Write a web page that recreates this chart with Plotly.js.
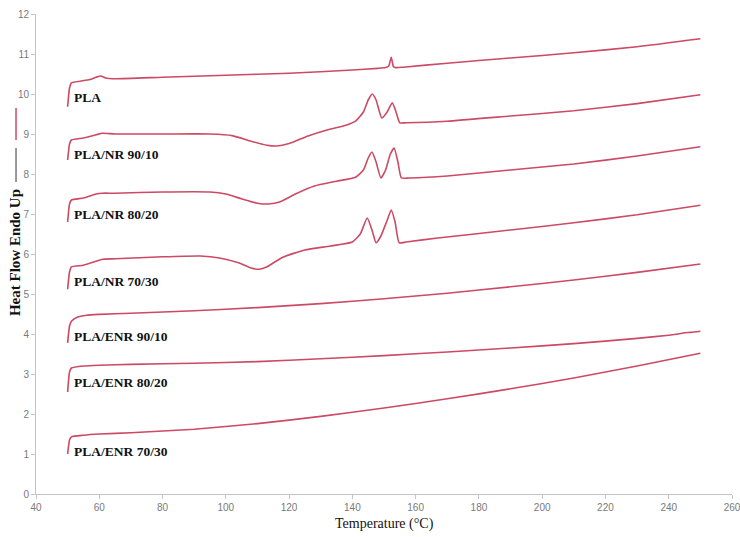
<!DOCTYPE html>
<html>
<head>
<meta charset="utf-8">
<script src="https://cdn.plot.ly/plotly-3.0.1.min.js"></script>
<style>html,body{margin:0;padding:0;background:#fff;}#chart{width:740px;height:537px;}</style>
</head>
<body>
<div id="chart"></div>
<script>
const seriesNames = ["PLA", "PLA/NR 90/10", "PLA/NR 80/20", "PLA/NR 70/30", "PLA/ENR 90/10", "PLA/ENR 80/20", "PLA/ENR 70/30"];

const tPLA = [50, 50.6, 51.2, 54, 57, 59, 60.5, 62, 65, 80, 100, 120, 140, 148, 150.5, 151.5, 152.3, 153, 153.8, 156, 170, 190, 210, 230, 250];
const hfPLA = [9.68, 10.15, 10.28, 10.32, 10.36, 10.42, 10.45, 10.4, 10.38, 10.42, 10.47, 10.52, 10.6, 10.64, 10.66, 10.7, 10.92, 10.68, 10.66, 10.67, 10.77, 10.9, 11.03, 11.18, 11.38];

const tNR9010 = [50, 50.6, 51.2, 55, 59, 61, 65, 80, 95, 102, 108, 113, 116, 120, 126, 132, 138, 141, 143.5, 145, 146.3, 147.5, 149.3, 151, 152.6, 153.8, 155, 157, 170, 190, 210, 230, 250];
const hfNR9010 = [8.35, 8.75, 8.85, 8.9, 8.98, 9.02, 9.0, 9.0, 9.0, 8.96, 8.82, 8.72, 8.7, 8.76, 8.95, 9.1, 9.22, 9.32, 9.55, 9.85, 10.0, 9.85, 9.4, 9.55, 9.78, 9.55, 9.28, 9.28, 9.32, 9.45, 9.58, 9.76, 9.98];

const tNR8020 = [50, 50.6, 51.2, 55, 59, 61, 65, 80, 95, 100, 105, 110, 113.5, 117, 122, 128, 135, 141, 143.5, 145, 146.2, 147.5, 149, 150.5, 152, 153.2, 154.4, 155.5, 158, 170, 190, 210, 230, 250];
const hfNR8020 = [6.8, 7.25, 7.35, 7.4, 7.5, 7.52, 7.52, 7.55, 7.55, 7.5, 7.38, 7.27, 7.25, 7.3, 7.5, 7.7, 7.82, 7.92, 8.1, 8.4, 8.55, 8.3, 7.9, 8.1, 8.5, 8.65, 8.3, 7.9, 7.9, 7.95, 8.1, 8.25, 8.45, 8.68];

const tNR7030 = [50, 50.6, 51.2, 55, 59, 61, 65, 80, 92, 98, 104, 108, 110.6, 113, 118, 125, 133, 140, 142.5, 144.7, 146.2, 147.5, 149, 150.8, 152.3, 153.5, 154.8, 157, 167, 190, 210, 230, 250];
const hfNR7030 = [5.12, 5.55, 5.68, 5.72, 5.82, 5.87, 5.88, 5.93, 5.95, 5.9, 5.78, 5.65, 5.62, 5.68, 5.92, 6.1, 6.2, 6.3, 6.5, 6.9, 6.6, 6.28, 6.45, 6.8, 7.1, 6.8, 6.28, 6.3, 6.4, 6.6, 6.78, 6.98, 7.22];

const tENR9010 = [50, 50.6, 51.2, 53, 56, 60, 70, 90, 110, 130, 150, 170, 190, 210, 230, 250];
const hfENR9010 = [3.78, 4.2, 4.32, 4.42, 4.47, 4.49, 4.52, 4.58, 4.66, 4.76, 4.88, 5.02, 5.18, 5.35, 5.54, 5.75];

const tENR8020 = [50, 50.6, 51.2, 55, 60, 70, 90, 110, 130, 150, 170, 190, 210, 230, 240, 243, 245, 247, 250];
const hfENR8020 = [2.55, 3.05, 3.15, 3.2, 3.22, 3.24, 3.27, 3.31, 3.38, 3.46, 3.55, 3.65, 3.76, 3.89, 3.97, 4.0, 4.03, 4.04, 4.07];

const tENR7030 = [50, 50.6, 51.2, 55, 60, 70, 90, 110, 130, 150, 170, 190, 210, 230, 250];
const hfENR7030 = [1.0, 1.35, 1.43, 1.47, 1.5, 1.53, 1.62, 1.76, 1.94, 2.15, 2.38, 2.63, 2.9, 3.2, 3.52];

const xTicks = [40, 60, 80, 100, 120, 140, 160, 180, 200, 220, 240, 260];
const yTicks = [0, 1, 2, 3, 4, 5, 6, 7, 8, 9, 10, 11, 12];

const temps = [tPLA, tNR9010, tNR8020, tNR7030, tENR9010, tENR8020, tENR7030];
const flows = [hfPLA, hfNR9010, hfNR8020, hfNR7030, hfENR9010, hfENR8020, hfENR7030];

const lineColor = "#cc4a63";
const traces = seriesNames.map((name, i) => ({
  type: "scatter", mode: "lines", name: name,
  x: temps[i], y: flows[i],
  line: {color: lineColor, width: 1.6, shape: "spline", smoothing: 0.5},
  hoverinfo: "x+y+name"
}));

const labelFont = {family: "Liberation Serif, Times New Roman, serif", size: 13.5, color: "#111"};
const annotations = seriesNames.map((name, i) => ({
  xref: "x", yref: "y", x: 51.5, y: flows[i][2] - 0.37,
  text: "<b>" + name + "</b>", showarrow: false, xanchor: "left", yanchor: "middle",
  font: labelFont
}));
annotations.push({
  xref: "paper", yref: "paper", x: -0.0302, y: 0.504, textangle: -90,
  text: "<b>Heat Flow Endo Up</b>", showarrow: false, xanchor: "center", yanchor: "middle",
  font: {family: "Liberation Serif, Times New Roman, serif", size: 15, color: "#111"}
});
annotations.push({
  xref: "paper", yref: "paper", x: 0.5, y: -0.0625,
  text: "Temperature (°C)", showarrow: false, xanchor: "center", yanchor: "middle",
  font: {family: "Liberation Serif, Times New Roman, serif", size: 14, color: "#111"}
});

const tickFont = {family: "Liberation Sans Narrow, Liberation Sans, Arial, sans-serif", size: 10, color: "#7a7a7a"};

const layout = {
  width: 740, height: 537,
  margin: {l: 36, r: 8, t: 14, b: 43},
  paper_bgcolor: "#fff", plot_bgcolor: "#fff",
  showlegend: false,
  xaxis: {
    range: [40, 260], tickvals: xTicks, ticktext: xTicks.map(String),
    showgrid: false, zeroline: false, showline: true, linecolor: "#c4c4c4", linewidth: 1,
    ticks: "outside", ticklen: 4, tickcolor: "#c4c4c4", tickfont: tickFont, automargin: false,
    ticklabeloverflow: "allow"
  },
  yaxis: {
    range: [0, 12], tickvals: yTicks, ticktext: yTicks.map(String),
    showgrid: false, zeroline: false, showline: true, linecolor: "#c4c4c4", linewidth: 1,
    ticks: "outside", ticklen: 4, tickcolor: "#c4c4c4", tickfont: tickFont, automargin: false,
    ticklabeloverflow: "allow"
  },
  annotations: annotations,
  shapes: [
    {type: "line", xref: "paper", yref: "paper", x0: -0.0287, x1: -0.0287, y0: 0.804, y1: 0.7375,
     line: {color: "#cc4a63", width: 1.5}},
    {type: "line", xref: "paper", yref: "paper", x0: -0.0287, x1: -0.0287, y0: 0.721, y1: 0.65,
     line: {color: "#555", width: 1.2}}
  ]
};

Plotly.newPlot("chart", traces, layout, {displayModeBar: false, staticPlot: true});
</script>
</body>
</html>
